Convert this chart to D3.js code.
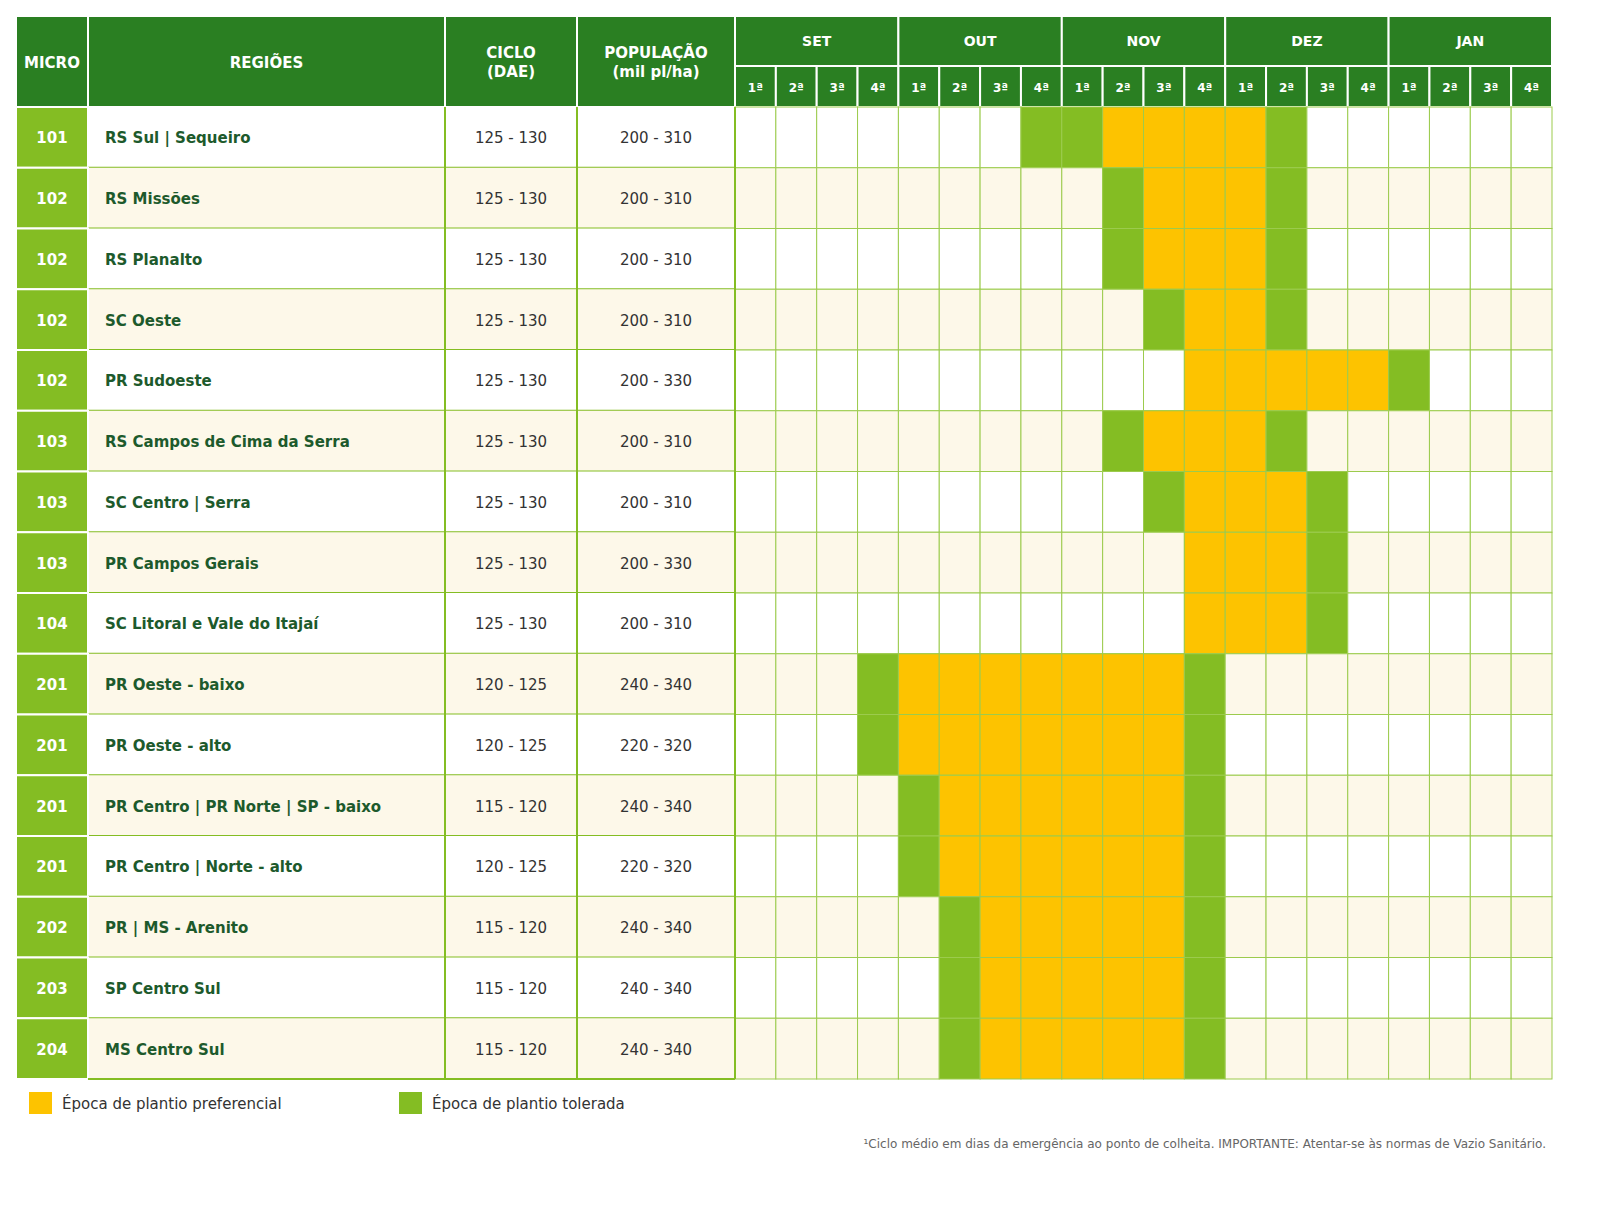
<!DOCTYPE html>
<html><head><meta charset="utf-8">
<script src="https://cdn.jsdelivr.net/npm/d3@7"></script>
<style>body{margin:0;background:#fff;font-family:"DejaVu Sans",sans-serif}</style>
</head><body><svg id="chart" width="1600" height="1214"></svg>
<script>
var micros = ['101','102','102','102','102','103','103','103','104','201','201','201','201','202','203','204'];
var regions = ['RS Sul | Sequeiro','RS Missões','RS Planalto','SC Oeste','PR Sudoeste','RS Campos de Cima da Serra','SC Centro | Serra','PR Campos Gerais','SC Litoral e Vale do Itajaí','PR Oeste - baixo','PR Oeste - alto','PR Centro | PR Norte | SP - baixo','PR Centro | Norte - alto','PR | MS - Arenito','SP Centro Sul','MS Centro Sul'];
var ciclos = ['125 - 130','125 - 130','125 - 130','125 - 130','125 - 130','125 - 130','125 - 130','125 - 130','125 - 130','120 - 125','120 - 125','115 - 120','120 - 125','115 - 120','115 - 120','115 - 120'];
var populacoes = ['200 - 310','200 - 310','200 - 310','200 - 310','200 - 330','200 - 310','200 - 310','200 - 330','200 - 310','240 - 340','220 - 320','240 - 340','220 - 320','240 - 340','240 - 340','240 - 340'];
var months = ['SET','OUT','NOV','DEZ','JAN'];
var weeks = ['1ª','2ª','3ª','4ª'];
// o = preferencial, g = tolerada, . = fora
var schedule = [
 '.......ggoooog......',
 '.........gooog......',
 '.........gooog......',
 '..........goog......',
 '...........oooooг...'.replace('г','g'),
 '.........gooog......',
 '..........gooog.....',
 '...........ooog.....',
 '...........ooog.....',
 '...gooooooog........',
 '...gooooooog........',
 '....goooooog........',
 '....goooooog........',
 '.....gooooog........',
 '.....gooooog........',
 '.....gooooog........'
];
var legend = [{k:'o',label:'Época de plantio preferencial'},{k:'g',label:'Época de plantio tolerada'}];

var DARK='#2a7f22', LIGHT='#84bd23', ORANGE='#fdc300', CREAM='#fdf8e9', TXT='#1d5a2c';
var svg = d3.select('#chart');
var top0=16, h1=50, h2=41, rowH=60.75;
var colX=[16,88,445,577,735], gridR=1552;
var wk = d3.scaleBand().domain(d3.range(20)).range([735,gridR]);
var y = d3.scaleBand().domain(d3.range(regions.length)).range([top0+h1+h2, top0+h1+h2+rowH*regions.length]);

// header
var hy=top0, hh=h1+h2;
[0,1,2,3].forEach(function(i){
  svg.append('rect').attr('x',colX[i]).attr('y',hy).attr('width',colX[i+1]-colX[i]).attr('height',hh).attr('fill',DARK).attr('stroke','#fff').attr('stroke-width',2);
});
var hdr=[['MICRO'],['REGIÕES'],['CICLO','(DAE)'],['POPULAÇÃO','(mil pl/ha)']];
hdr.forEach(function(t,i){
  var cx=(colX[i]+colX[i+1])/2, cy=hy+hh/2;
  t.forEach(function(s,j){
    svg.append('text').attr('x',cx).attr('y',cy+(j-(t.length-1)/2)*19+6).attr('text-anchor','middle')
      .attr('fill','#fff').attr('font-weight','bold').attr('font-size',15).text(s);
  });
});
months.forEach(function(m,i){
  var x0=wk(i*4), w=wk.bandwidth()*4;
  svg.append('rect').attr('x',x0).attr('y',hy).attr('width',w).attr('height',h1).attr('fill',DARK).attr('stroke','#fff').attr('stroke-width',2);
  svg.append('text').attr('x',x0+w/2).attr('y',hy+h1/2+5).attr('text-anchor','middle').attr('fill','#fff').attr('font-weight','bold').attr('font-size',14).text(m);
  weeks.forEach(function(wl,j){
    var xx=wk(i*4+j);
    svg.append('rect').attr('x',xx).attr('y',hy+h1).attr('width',wk.bandwidth()).attr('height',h2).attr('fill',DARK).attr('stroke','#fff').attr('stroke-width',2);
    svg.append('text').attr('x',xx+wk.bandwidth()/2).attr('y',hy+h1+h2/2+5).attr('text-anchor','middle').attr('fill','#fff').attr('font-weight','bold').attr('font-size',12).text(wl);
  });
});

// rows
regions.forEach(function(r,i){
  var ry=y(i), bg=i%2?CREAM:'#fff';
  svg.append('rect').attr('x',colX[1]).attr('y',ry).attr('width',colX[4]-colX[1]).attr('height',rowH).attr('fill',bg);
  svg.append('rect').attr('x',colX[0]).attr('y',ry).attr('width',colX[1]-colX[0]).attr('height',rowH).attr('fill',LIGHT).attr('stroke','#fff').attr('stroke-width',2);
  svg.append('text').attr('x',(colX[0]+colX[1])/2).attr('y',ry+rowH/2+6).attr('text-anchor','middle').attr('fill','#fff').attr('font-weight','bold').attr('font-size',15).text(micros[i]);
  svg.append('text').attr('x',colX[1]+17).attr('y',ry+rowH/2+6).attr('fill',TXT).attr('font-weight','bold').attr('font-size',15).text(r);
  svg.append('text').attr('x',(colX[2]+colX[3])/2).attr('y',ry+rowH/2+6).attr('text-anchor','middle').attr('fill','#333').attr('font-size',15).text(ciclos[i]);
  svg.append('text').attr('x',(colX[3]+colX[4])/2).attr('y',ry+rowH/2+6).attr('text-anchor','middle').attr('fill','#333').attr('font-size',15).text(populacoes[i]);
  svg.append('line').attr('x1',colX[1]).attr('x2',colX[4]).attr('y1',ry+rowH).attr('y2',ry+rowH).attr('stroke',LIGHT).attr('stroke-width',2);
  schedule[i].split('').forEach(function(c,j){
    svg.append('rect').attr('x',wk(j)).attr('y',ry).attr('width',wk.bandwidth()).attr('height',rowH)
      .attr('fill',c==='o'?ORANGE:c==='g'?LIGHT:bg).attr('stroke','#9ccb4d').attr('stroke-width',1);
  });
});
[2,3,4].forEach(function(i){
  svg.append('line').attr('x1',colX[i]).attr('x2',colX[i]).attr('y1',y(0)).attr('y2',y(0)+rowH*regions.length).attr('stroke',LIGHT).attr('stroke-width',2);
});

// legend
var ly=1092;
legend.forEach(function(l,i){
  var lx=29+i*370;
  svg.append('rect').attr('x',lx).attr('y',ly).attr('width',23).attr('height',22).attr('fill',l.k==='o'?ORANGE:LIGHT);
  svg.append('text').attr('x',lx+33).attr('y',ly+17).attr('fill','#333').attr('font-size',15).text(l.label);
});
svg.append('text').attr('x',1546).attr('y',1148).attr('text-anchor','end').attr('fill','#666').attr('font-size',12)
  .text('¹Ciclo médio em dias da emergência ao ponto de colheita. IMPORTANTE: Atentar-se às normas de Vazio Sanitário.');
</script></body></html>
